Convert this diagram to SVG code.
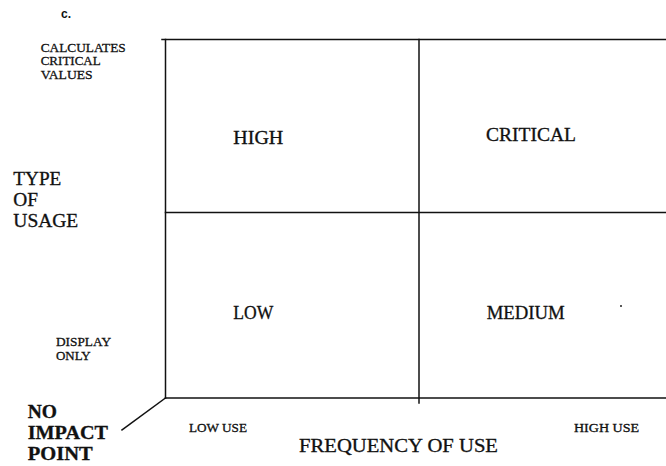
<svg xmlns="http://www.w3.org/2000/svg" width="666" height="466" viewBox="0 0 666 466">
  <style>
    text { font-family: "Liberation Serif", "Times New Roman", serif; fill: #111; stroke: #111; stroke-width: 0.3; }
    .sm { font-size: 13px; }
    .xs { font-size: 12px; }
    .lg { font-size: 18px; }
    .bd { font-size: 18px; font-weight: bold; }
    .rule { stroke: #111; stroke-width: 1.5; fill: none; stroke-linecap: square; }
  </style>
  <rect width="666" height="466" fill="#fff"/>

  <text x="61" y="18" style="font-family:'Liberation Sans',Arial,sans-serif;font-size:12px;font-weight:bold;stroke:none">c.</text>

  <!-- grid of the usage matrix -->
  <g id="connectors">
    <line class="rule" x1="162" y1="39.5" x2="666" y2="39.5"/>
    <line class="rule" x1="165.5" y1="39.5" x2="165.5" y2="398"/>
    <line class="rule" x1="419" y1="39.5" x2="419" y2="403"/>
    <line class="rule" x1="165.5" y1="212.5" x2="666" y2="212.5"/>
    <line class="rule" x1="165.5" y1="398" x2="666" y2="398"/>
    <line class="rule" x1="165.5" y1="398" x2="122" y2="430"/>
  </g>

  <!-- vertical axis labels -->
  <g id="axis-type">
    <text class="sm" x="40.7" y="51.5" textLength="85" lengthAdjust="spacingAndGlyphs">CALCULATES</text>
    <text class="sm" x="40.7" y="65" textLength="60" lengthAdjust="spacingAndGlyphs">CRITICAL</text>
    <text class="sm" x="40.7" y="78.5" textLength="52" lengthAdjust="spacingAndGlyphs">VALUES</text>
    <text class="lg" x="13.3" y="185" textLength="48" lengthAdjust="spacingAndGlyphs">TYPE</text>
    <text class="lg" x="13.3" y="205.7" textLength="24.7" lengthAdjust="spacingAndGlyphs">OF</text>
    <text class="lg" x="13.3" y="227.3" textLength="65" lengthAdjust="spacingAndGlyphs">USAGE</text>
    <text class="sm" x="56" y="346" textLength="55" lengthAdjust="spacingAndGlyphs">DISPLAY</text>
    <text class="sm" x="56" y="360" textLength="34.7" lengthAdjust="spacingAndGlyphs">ONLY</text>
  </g>

  <!-- origin label -->
  <g id="origin">
    <text class="bd" x="27.7" y="417.7" textLength="29.3" lengthAdjust="spacingAndGlyphs">NO</text>
    <text class="bd" x="27.7" y="439" textLength="80.3" lengthAdjust="spacingAndGlyphs">IMPACT</text>
    <text class="bd" x="27.7" y="460" textLength="65" lengthAdjust="spacingAndGlyphs">POINT</text>
  </g>

  <!-- horizontal axis labels -->
  <g id="axis-frequency">
    <text class="xs" x="189" y="431.7" textLength="58" lengthAdjust="spacingAndGlyphs">LOW USE</text>
    <text class="xs" x="574" y="432.3" textLength="65" lengthAdjust="spacingAndGlyphs">HIGH USE</text>
    <text class="lg" x="299" y="452" textLength="199" lengthAdjust="spacingAndGlyphs">FREQUENCY OF USE</text>
  </g>

  <!-- quadrants -->
  <g id="q-high"><text class="lg" x="233.3" y="144.3" textLength="50" lengthAdjust="spacingAndGlyphs">HIGH</text></g>
  <g id="q-critical"><text class="lg" x="486" y="141" textLength="90" lengthAdjust="spacingAndGlyphs">CRITICAL</text></g>
  <g id="q-low"><text class="lg" x="233.3" y="319.3" textLength="40" lengthAdjust="spacingAndGlyphs">LOW</text></g>
  <g id="q-medium"><text class="lg" x="486.7" y="319.3" textLength="78" lengthAdjust="spacingAndGlyphs">MEDIUM</text></g>

  <circle cx="621" cy="306" r="1" fill="#222"/>
</svg>
